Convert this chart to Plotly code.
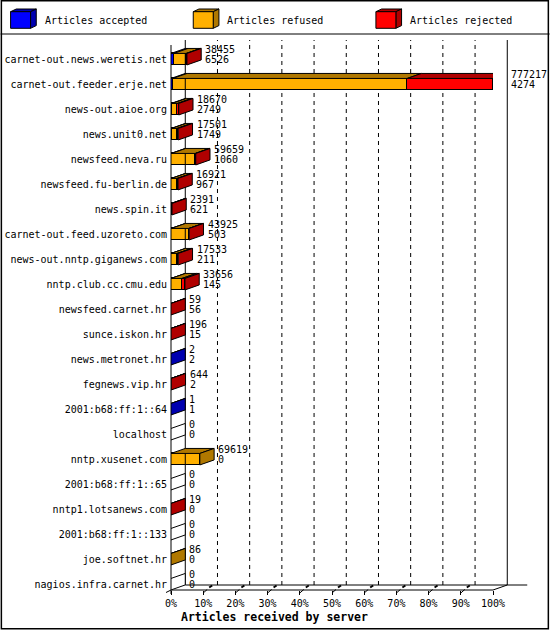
import plotly.graph_objects as go

# innfeed style report: articles per outgoing server
servers = [
    "carnet-out.news.weretis.net", "carnet-out.feeder.erje.net", "news-out.aioe.org",
    "news.unit0.net", "newsfeed.neva.ru", "newsfeed.fu-berlin.de", "news.spin.it",
    "carnet-out.feed.uzoreto.com", "news-out.nntp.giganews.com", "nntp.club.cc.cmu.edu",
    "newsfeed.carnet.hr", "sunce.iskon.hr", "news.metronet.hr", "fegnews.vip.hr",
    "2001:b68:ff:1::64", "localhost", "nntp.xusenet.com", "2001:b68:ff:1::65",
    "nntp1.lotsanews.com", "2001:b68:ff:1::133", "joe.softnet.hr", "nagios.infra.carnet.hr",
]
offered = [38455, 777217, 18670, 17501, 59659, 16921, 2391, 43925, 17533, 33656,
           59, 196, 2, 644, 1, 0, 69619, 0, 19, 0, 86, 0]
accepted = [6526, 4274, 2749, 1749, 1060, 967, 621, 503, 211, 145,
            56, 15, 2, 2, 1, 0, 0, 0, 0, 0, 0, 0]
refused = [30000, 565760, 12431, 12706, 57485, 13488, 0, 42500, 14244, 26355,
           0, 0, 0, 0, 0, 0, 69619, 0, 0, 0, 86, 0]
rejected = [1929, 207183, 3490, 3046, 1114, 2466, 1770, 922, 3078, 7156,
            3, 181, 0, 642, 0, 0, 0, 0, 19, 0, 0, 0]
pct_labels = ["0%", "10%", "20%", "30%", "40%", "50%", "60%", "70%", "80%", "90%", "100%"]

series = ["Articles accepted", "Articles refused", "Articles rejected"]
front_col = ["#0000FF", "#FFB000", "#FF0000"]
dark_col = ["#0000B0", "#B07800", "#B00000"]

FONT = "DejaVu Sans Mono"
W, H = 550, 630
PL, PR, PT, PB = 170.7, 493.3, 45, 590   # front plane of the plot, pixels
DX, DY = 14.3, 5                          # 3d depth
ROW0, STEP = 59.2, 25.0
BW = 0.46

n = len(servers)
xmax = max(offered)
dxd = DX * xmax / (PR - PL)
dyd = DY / STEP


def px(x):
    return (x - PL) / (PR - PL)


def py(y):
    return (PB - y) / (PB - PT)


fig = go.Figure()
for k, vals in enumerate([accepted, refused, rejected]):
    fig.add_trace(go.Bar(
        y=list(range(n)), x=vals, orientation="h", width=BW,
        marker=dict(color=front_col[k], line=dict(color="black", width=1)),
        name=series[k], showlegend=False, hoverinfo="x+name",
    ))

shapes = []
annots = []

# dashed grid on the back wall
for t in range(1, 10):
    xv = xmax * t / 10 + dxd
    shapes.append(dict(type="line", xref="x", yref="paper", x0=xv, x1=xv,
                       y0=py(PB - DY), y1=py(PT - 5), layer="below",
                       line=dict(color="black", width=1, dash="4px,4px")))

# walls, floor
def pline(x0, y0, x1, y1, w=1):
    shapes.append(dict(type="line", xref="paper", yref="paper",
                       x0=px(x0), y0=py(y0), x1=px(x1), y1=py(y1),
                       line=dict(color="black", width=w)))

pline(PL, PT, PL, PB + 4)
pline(PL + DX, PT - 5, PL + DX, PB - DY)
pline(PR + DX, PT - 5, PR + DX, PB - DY)
pline(PL + DX, PB - DY, PR + DX + 20, PB - DY)
pline(PL, PB, PR, PB)
pline(PR, PB, PR + DX, PB - DY)
pline(PL - 5, PB + 2.5, PL, PB)
for t in range(1, 10):
    xt = PL + (PR - PL) * t / 10
    pline(xt, PB + 3, xt + 4, PB - 0.5)
    pline(xt + 6, PB - 2.5, xt + 9, PB - 4.5, 2)

# 3d tops and sides of the bars
for i in range(n):
    top, bot = i - BW / 2, i + BW / 2
    cum, last = 0, None
    for k, vals in enumerate([accepted, refused, rejected]):
        v = vals[i]
        if v <= 0:
            continue
        x0, x1 = cum, cum + v
        shapes.append(dict(
            type="path", xref="x", yref="y", fillcolor=dark_col[k],
            line=dict(color="black", width=1),
            path=f"M {x0},{top} L {x1},{top} L {x1 + dxd},{top - dyd} L {x0 + dxd},{top - dyd} Z"))
        cum, last = x1, k
    side = dark_col[last] if last is not None else "white"
    shapes.append(dict(
        type="path", xref="x", yref="y", fillcolor=side,
        line=dict(color="black", width=1),
        path=f"M {cum},{top} L {cum + dxd},{top - dyd} L {cum + dxd},{bot - dyd} L {cum},{bot} Z"))
    for txt, ys in [(offered[i], 10), (accepted[i], 0)]:
        annots.append(dict(x=cum, y=i, xref="x", yref="y", text=str(txt),
                           showarrow=False, xanchor="left", yanchor="middle",
                           xshift=DX + 2, yshift=ys,
                           font=dict(family=FONT, size=10, color="black")))

# legend with cubes
pline(0, 34, W, 34)
for k, lx in enumerate([10, 193, 376]):
    fx0, fx1, fy0, fy1 = lx, lx + 20, 11.7, 28.3
    d, e = 5.7, 2.7
    shapes.append(dict(type="path", xref="paper", yref="paper", fillcolor=dark_col[k],
                       line=dict(color="black", width=1),
                       path=(f"M {px(fx0)},{py(fy0)} L {px(fx1)},{py(fy0)} L {px(fx1 + d)},{py(fy0 - e)} "
                             f"L {px(fx0 + d)},{py(fy0 - e)} Z")))
    shapes.append(dict(type="path", xref="paper", yref="paper", fillcolor=dark_col[k],
                       line=dict(color="black", width=1),
                       path=(f"M {px(fx1)},{py(fy0)} L {px(fx1 + d)},{py(fy0 - e)} L {px(fx1 + d)},{py(fy1 - e)} "
                             f"L {px(fx1)},{py(fy1)} Z")))
    shapes.append(dict(type="rect", xref="paper", yref="paper", fillcolor=front_col[k],
                       line=dict(color="black", width=1),
                       x0=px(fx0), x1=px(fx1), y0=py(fy1), y1=py(fy0)))
    annots.append(dict(x=px(lx + 32), y=py(20.5), xref="paper", yref="paper",
                       text=series[k], showarrow=False, xanchor="left", yanchor="middle",
                       font=dict(family=FONT, size=10, color="black")))

annots.append(dict(x=px(274), y=py(617), xref="paper", yref="paper",
                   text="<b>Articles received by server</b>", showarrow=False,
                   xanchor="center", yanchor="middle",
                   font=dict(family=FONT, size=11.5, color="black")))

# outer frame
shapes.append(dict(type="rect", xref="paper", yref="paper",
                   x0=px(0.75), x1=px(W - 1.25), y0=py(H - 1.25), y1=py(0.75),
                   line=dict(color="black", width=1.5)))

fig.update_layout(
    width=W, height=H, autosize=False,
    margin=dict(l=PL, r=W - PR, t=PT, b=H - PB, pad=0),
    paper_bgcolor="white", plot_bgcolor="white",
    barmode="stack", bargap=0,
    shapes=shapes, annotations=annots,
    font=dict(family=FONT, size=10, color="black"),
    xaxis=dict(range=[0, xmax], tickvals=[xmax * t / 10 for t in range(11)],
               ticktext=pct_labels, showgrid=False, zeroline=False, showline=False,
               ticks="outside", ticklen=4, tickcolor="black", fixedrange=True,
               automargin=False),
    yaxis=dict(range=[(PB - ROW0) / STEP, -(ROW0 - PT) / STEP],
               tickvals=list(range(n)), ticktext=servers,
               showgrid=False, zeroline=False, showline=False, ticks="",
               ticklabelstandoff=3, fixedrange=True, automargin=False),
)

# page body margin would push the 550x630 figure off the window
fig.write_html("out.html", config={"displayModeBar": False},
               post_script="document.body.style.margin='0';")
